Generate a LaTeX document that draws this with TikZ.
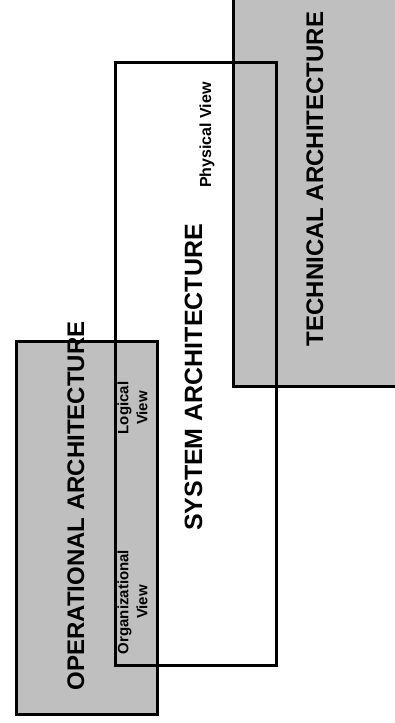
\documentclass[tikz,border=0pt]{standalone}
\usepackage{fontspec}
\setmainfont{Liberation Sans}

\begin{document}
\begin{tikzpicture}[x=1pt, y=1pt,
    area/.style={draw, line width=3pt, fill=black!25, inner sep=0pt},
    frame/.style={draw, line width=3pt, inner sep=0pt},
    archlabel/.style={rotate=90, anchor=base, inner sep=0pt, font=\bfseries\fontsize{#1}{#1}\selectfont},
    viewlabel/.style={rotate=90, align=center, inner sep=0pt, font=\bfseries\fontsize{15}{19}\selectfont}]
  \useasboundingbox (0,0) rectangle (395,723);
  \clip (0,0) rectangle (395,723);
  \node[area, minimum width=177pt, minimum height=407pt] (tech) at (321.5,539.5) {};
  \node[area, minimum width=141pt, minimum height=373pt] (oper) at (86.5,194.5) {};
  \node[frame, minimum width=161pt, minimum height=603pt] (sys) at (195.5,358.5) {};
  \node[archlabel=24] (techname) at (323,544) {TECHNICAL ARCHITECTURE};
  \node[archlabel=25] (sysname) at (202,345.5) {SYSTEM ARCHITECTURE};
  \node[archlabel=24] (opername) at (84,217) {OPERATIONAL ARCHITECTURE};
  \node[archlabel=16] (physical) at (211,588) {Physical View};
  \node[viewlabel] (logical) at (132.5,315) {Logical\\View};
  \node[viewlabel] (organizational) at (132.5,121) {Organizational\\View};
\end{tikzpicture}
\end{document}
